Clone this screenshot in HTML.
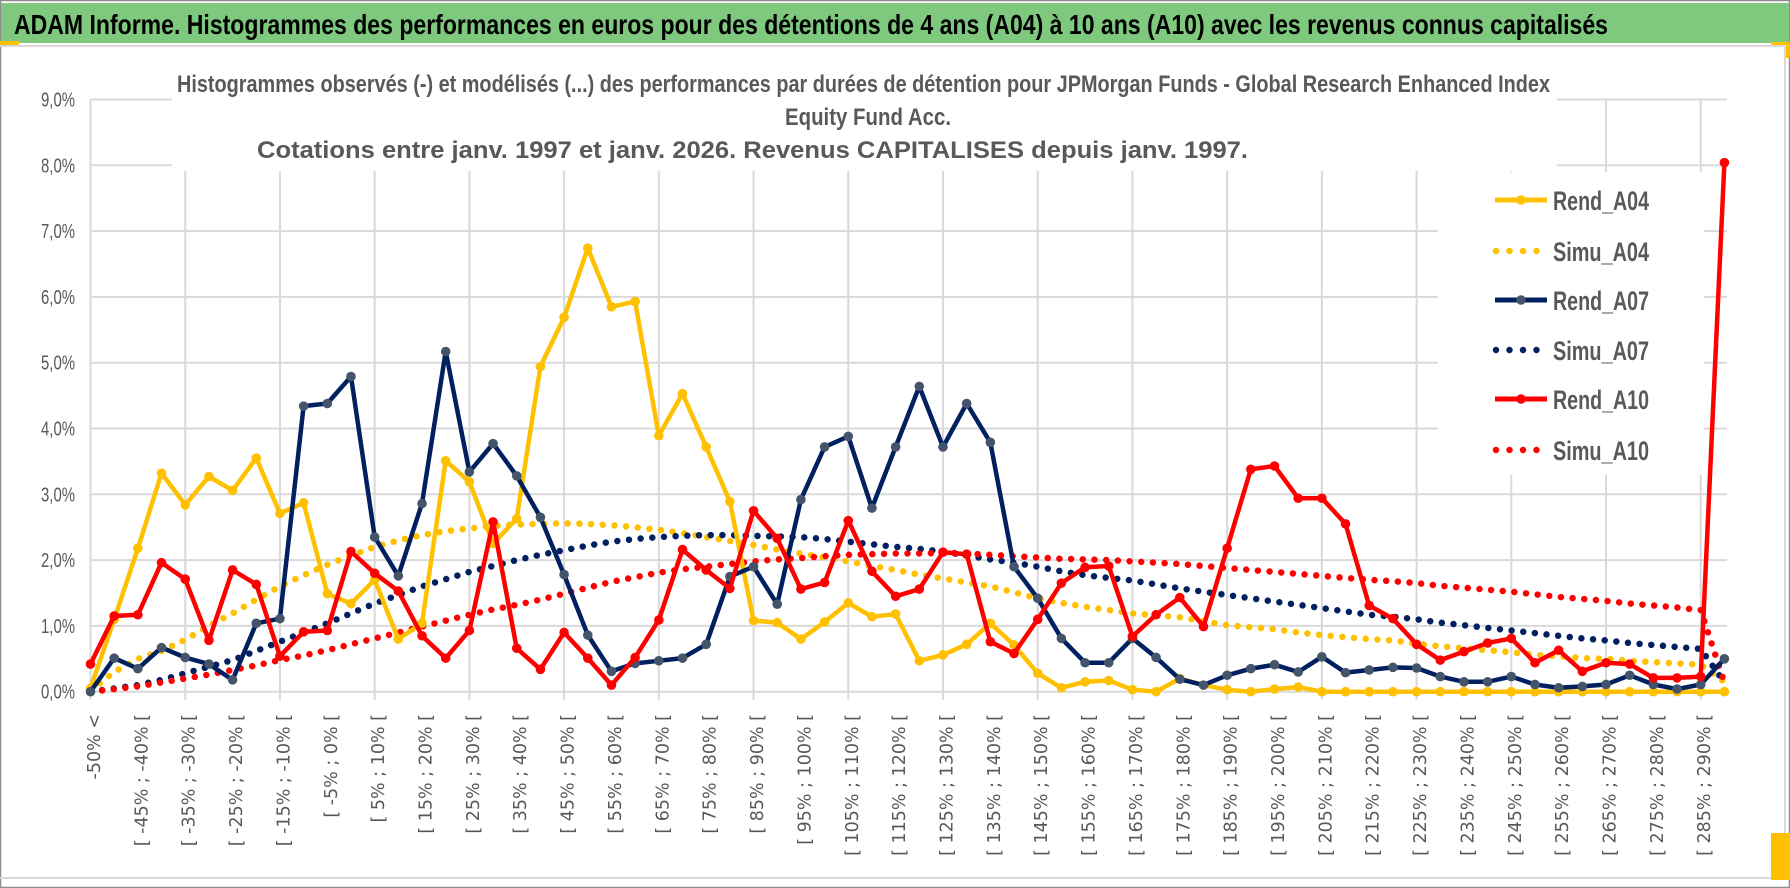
<!DOCTYPE html>
<html><head><meta charset="utf-8">
<style>
html,body{margin:0;padding:0;background:#fff;}
svg{display:block;}
</style></head>
<body>
<svg id="chart" xmlns="http://www.w3.org/2000/svg" width="1790" height="888" viewBox="0 0 1790 888">
  <rect x="0" y="0" width="1790" height="888" fill="#ffffff"/>
  <rect x="0.5" y="0.5" width="1789" height="887" fill="none" stroke="#8c8c8c" stroke-width="1.5"/>
  <rect x="1" y="3" width="1788" height="40" fill="#7ec97d"/>
  <text x="14" y="34" font-family="'Liberation Sans', sans-serif" font-weight="bold" font-size="28" fill="#000" textLength="1594" lengthAdjust="spacingAndGlyphs">ADAM Informe. Histogrammes des performances en euros pour des détentions de 4 ans (A04) à 10 ans (A10) avec les revenus connus capitalisés</text>
  <line x1="0" y1="46" x2="1785" y2="46" stroke="#d9d9d9" stroke-width="2"/>
  <line x1="1785" y1="46" x2="1785" y2="878" stroke="#d9d9d9" stroke-width="2"/>
  <line x1="0" y1="878" x2="1785" y2="878" stroke="#d9d9d9" stroke-width="2"/>
  <rect x="0" y="41" width="19" height="4" fill="#ffc000"/>
  <rect x="1771" y="42" width="19" height="3" fill="#ffc000"/>
  <rect x="1786" y="42" width="4" height="16" fill="#ffc000"/>
  <rect x="1771" y="833" width="19" height="47" fill="#ffc000"/>
  <g id="grid"></g>
  <g id="yaxis"></g>
  <g id="xaxis"></g>
  <g id="series"></g>
  <rect x="172" y="48" width="1385" height="123" fill="#fff"/>
  <g font-family="'Liberation Sans', sans-serif" font-weight="bold" font-size="24" fill="#595959">
    <text x="177" y="92" textLength="1373" lengthAdjust="spacingAndGlyphs">Histogrammes observés (-) et modélisés (...) des performances par durées de détention pour JPMorgan Funds - Global Research Enhanced Index</text>
    <text x="785" y="125" textLength="166" lengthAdjust="spacingAndGlyphs">Equity Fund Acc.</text>
    <text x="257" y="158" textLength="991" lengthAdjust="spacingAndGlyphs">Cotations entre janv. 1997 et janv. 2026. Revenus CAPITALISES depuis janv. 1997.</text>
  </g>
  <rect x="1438" y="172" width="266" height="303" fill="#fff"/>
  <g id="legend"></g>
</svg>
<script>
const categories = (function(){ const c=["-50% <"]; for(let k=1;k<70;k++){const a=-55+5*k;c.push("[ "+a+"% ; "+(a+5)+"% [");} return c; })();
const yTicks = ["0,0%","1,0%","2,0%","3,0%","4,0%","5,0%","6,0%","7,0%","8,0%","9,0%"];
const seriesNames = ["Rend_A04","Simu_A04","Rend_A07","Simu_A07","Rend_A10","Simu_A10"];
const rendA04 = [0.05,1.1,2.18,3.32,2.84,3.27,3.06,3.55,2.71,2.87,1.49,1.34,1.70,0.80,1.04,3.51,3.19,2.25,2.63,
 4.94,5.69,6.74,5.85,5.93,3.89,4.53,3.72,2.89,1.08,1.05,0.80,1.06,1.35,1.14,1.18,0.47,0.56,
 0.72,1.04,0.71,0.28,0.06,0.15,0.17,0.03,0.0,0.2,0.1,0.03,0,0.04,0.07,0,0,
 0,0,0,0,0,0,0,0,0,0,0,0,0,0,0,0];
const simuA04 = [0.02,0.3,0.5,0.62,0.79,1.0,1.19,1.4,1.6,1.77,
 1.93,2.07,2.2,2.3,2.38,2.44,2.48,2.52,2.54,2.55,
 2.56,2.55,2.53,2.5,2.46,2.41,2.35,2.29,2.23,2.16,
 2.10,2.04,1.98,1.91,1.85,1.78,1.72,1.66,1.60,1.51,
 1.42,1.35,1.29,1.24,1.19,1.16,1.13,1.07,1.01,0.98,
 0.95,0.9,0.86,0.83,0.80,0.78,0.73,0.69,0.66,0.63,
 0.60,0.56,0.54,0.51,0.50,0.47,0.45,0.43,0.41,0.15];
const rendA07 = [0,0.51,0.35,0.67,0.52,0.42,0.18,1.04,1.11,4.34,4.38,4.79,2.35,1.76,2.86,5.17,3.34,3.77,3.28,
 2.65,1.78,0.86,0.31,0.43,0.47,0.51,0.72,1.75,1.90,1.33,2.92,3.72,3.88,2.79,3.72,4.64,3.72,
 4.38,3.79,1.90,1.42,0.81,0.44,0.44,0.81,0.52,0.19,0.10,0.25,0.35,0.41,0.30,0.53,0.29,
 0.33,0.37,0.36,0.23,0.15,0.15,0.23,0.11,0.06,0.08,0.11,0.25,0.11,0.04,0.11,0.5];
const simuA07 = [0,0.05,0.1,0.18,0.28,0.38,0.48,0.62,0.76,0.9,
 1.04,1.19,1.34,1.47,1.6,1.71,1.82,1.91,2.0,2.08,
 2.15,2.22,2.28,2.32,2.35,2.37,2.38,2.38,2.37,2.36,
 2.35,2.32,2.28,2.24,2.20,2.17,2.13,2.07,2.01,1.96,
 1.90,1.83,1.77,1.73,1.69,1.63,1.57,1.52,1.47,1.42,
 1.37,1.32,1.27,1.22,1.17,1.14,1.10,1.05,1.01,0.97,
 0.93,0.89,0.85,0.81,0.78,0.74,0.71,0.68,0.65,0.14];
const rendA10 = [0.42,1.15,1.17,1.96,1.71,0.78,1.85,1.63,0.54,0.91,0.93,2.13,1.80,1.53,0.85,0.51,0.93,2.58,0.66,
 0.34,0.90,0.51,0.10,0.52,1.09,2.16,1.85,1.57,2.75,2.33,1.56,1.66,2.60,1.83,1.45,1.56,2.12,
 2.09,0.76,0.58,1.10,1.65,1.89,1.91,0.84,1.17,1.43,0.99,2.18,3.38,3.43,2.94,2.94,2.55,
 1.31,1.11,0.72,0.48,0.61,0.74,0.81,0.44,0.63,0.31,0.44,0.42,0.21,0.21,0.23,8.04];
const simuA10 = [0,0.04,0.08,0.14,0.2,0.26,0.33,0.4,0.48,0.55,
 0.63,0.72,0.81,0.9,0.99,1.08,1.17,1.25,1.32,1.4,
 1.49,1.58,1.67,1.74,1.81,1.86,1.90,1.94,1.98,2.01,
 2.03,2.06,2.08,2.09,2.10,2.10,2.11,2.10,2.08,2.06,
 2.04,2.02,2.01,2.0,1.98,1.96,1.94,1.91,1.88,1.85,
 1.82,1.79,1.76,1.73,1.70,1.68,1.65,1.61,1.58,1.55,
 1.52,1.48,1.44,1.41,1.38,1.34,1.31,1.28,1.24,0.14];

const NS="http://www.w3.org/2000/svg";
const X0=90.5, STEP=23.68, Y0=691.7, YPER=65.8, XRIGHT=1727;
function xPos(i){return X0+i*STEP;}
function yPos(v){return Y0-v*YPER;}
function mk(tag,attrs,parent){const e=document.createElementNS(NS,tag);for(const k in attrs)e.setAttribute(k,attrs[k]);parent.appendChild(e);return e;}

const grid=document.getElementById('grid');
for(let t=0;t<yTicks.length;t++){
  const l=mk('line',{x1:X0,x2:XRIGHT,y1:yPos(t),y2:yPos(t),stroke:'#d9d9d9','stroke-width':2},grid);
  
  
}
for(let i=0;i<categories.length;i+=4){
  const l=mk('line',{x1:xPos(i),x2:xPos(i),y1:yPos(9),y2:Y0+8,stroke:'#d9d9d9','stroke-width':2},grid);
  
  
}
const ya=document.getElementById('yaxis');
for(let t=0;t<yTicks.length;t++){
  const tx=mk('text',{x:41,y:yPos(t)+7,'font-family':"'Liberation Sans', sans-serif",'font-size':20,fill:'#595959',textLength:34,lengthAdjust:'spacingAndGlyphs'},ya);
  tx.textContent=yTicks[t];
  
  
}
const xa=document.getElementById('xaxis');
for(let i=0;i<categories.length;i+=2){
  const bx=xPos(i)+9.5, by=714;
  const tx=mk('text',{x:bx,y:by,transform:'rotate(-90 '+bx+' '+by+')','text-anchor':'end','font-family':"'DejaVu Sans', sans-serif",'font-size':17.5,fill:'#595959'},xa);
  tx.textContent=categories[i];
  
  
}
const sg=document.getElementById('series');
function pts(arr){return arr.map((v,i)=>xPos(i).toFixed(1)+','+yPos(v).toFixed(1)).join(' ');}
function dotted(arr,color,name){
  const p=mk('polyline',{points:pts(arr),fill:'none',stroke:color,'stroke-width':6.5,'stroke-linecap':'round','stroke-dasharray':'0 11.7'},sg);
  
  
}
function solid(arr,color,mcolor,name){
  const p=mk('polyline',{points:pts(arr),fill:'none',stroke:color,'stroke-width':4.5,'stroke-linejoin':'round'},sg);
  
  
  arr.forEach((v,i)=>{
    const c=mk('circle',{cx:xPos(i),cy:yPos(v),r:4.8,fill:mcolor},sg);
    
    
  });
}
dotted(simuA04,'#ffc000','simu-a04-line');
dotted(simuA07,'#002060','simu-a07-line');
dotted(simuA10,'#ff0000','simu-a10-line');
solid(rendA04,'#ffc000','#ffc000','rend-a04-line');
solid(rendA07,'#002060','#44546a','rend-a07-line');
solid(rendA10,'#ff0000','#ff0000','rend-a10-line');

const lg=document.getElementById('legend');
const legendStyles=[['#ffc000','#ffc000',false],['#ffc000',null,true],['#002060','#44546a',false],['#002060',null,true],['#ff0000','#ff0000',false],['#ff0000',null,true]];
const legendY=[200,251,300,350,399,450];
for(let k=0;k<seriesNames.length;k++){
  const st=legendStyles[k], y=legendY[k];
  const g=mk('g',{},lg);
  
  
  if(st[2]){
    mk('line',{x1:1496,x2:1540,y1:y,y2:y,stroke:st[0],'stroke-width':6.5,'stroke-linecap':'round','stroke-dasharray':'0 13.5'},g);
  } else {
    mk('line',{x1:1495,x2:1547,y1:y,y2:y,stroke:st[0],'stroke-width':5},g);
    mk('circle',{cx:1521,cy:y,r:4.8,fill:st[1]},g);
  }
  const t=mk('text',{x:1553,y:y+10,'font-family':"'Liberation Sans', sans-serif",'font-weight':'bold','font-size':27,fill:'#595959',textLength:96,lengthAdjust:'spacingAndGlyphs'},g);
  t.textContent=seriesNames[k];
}
</script>
</body></html>
